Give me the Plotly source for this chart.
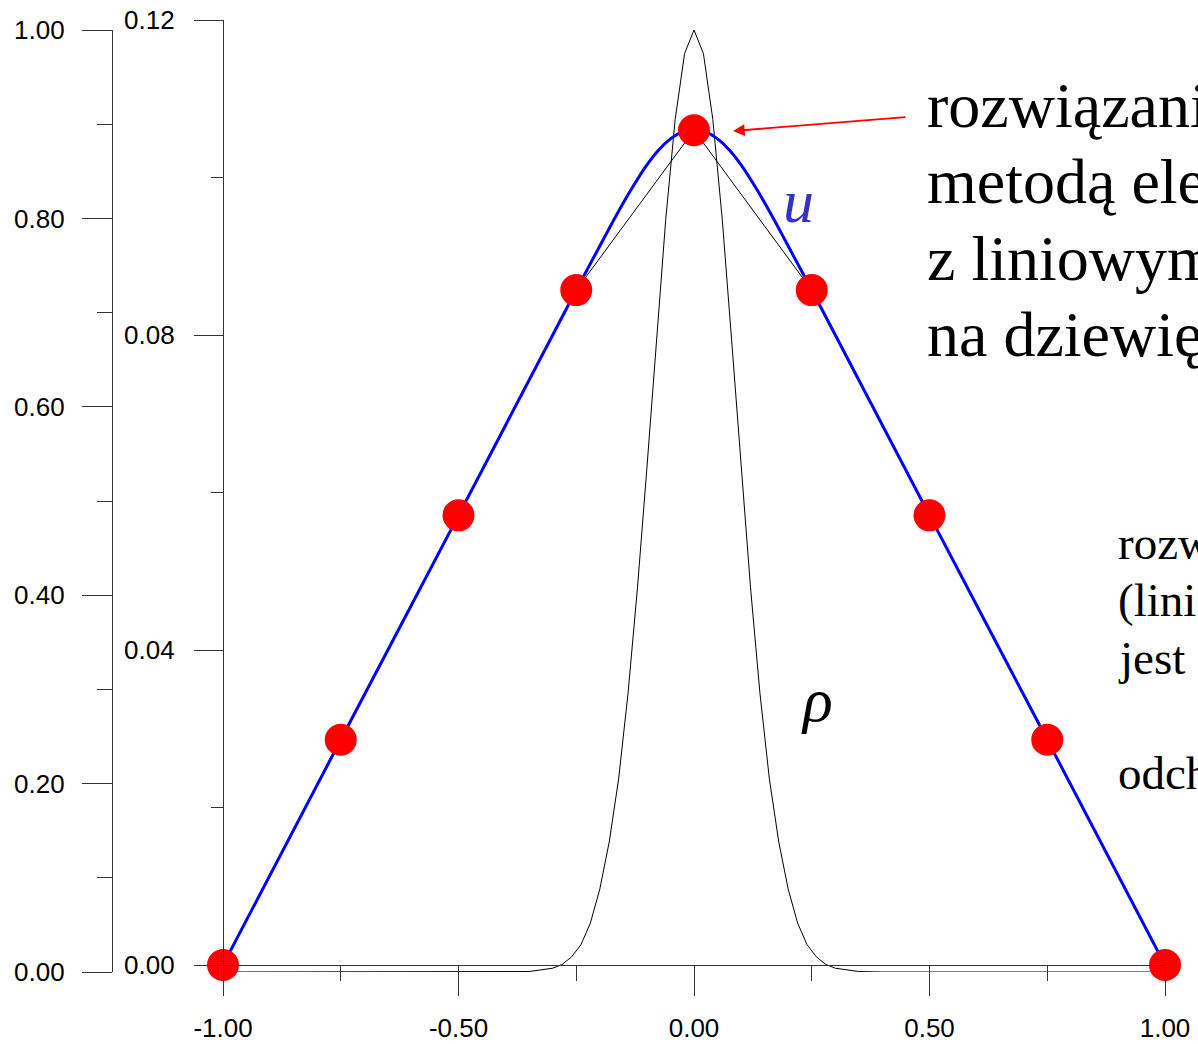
import plotly.graph_objects as go

W, H = 1198, 1044

# ---- data ----
# source density rho (outer axis, 0..1)
rho_x = [-1.0, -0.5, -0.4, -0.35, -0.3, -0.28, -0.26, -0.24, -0.22, -0.2, -0.18, -0.16,
         -0.14, -0.12, -0.1, -0.08, -0.06, -0.04, -0.02, 0.0,
         0.02, 0.04, 0.06, 0.08, 0.1, 0.12, 0.14, 0.16, 0.18, 0.2, 0.22, 0.24,
         0.26, 0.28, 0.3, 0.35, 0.4, 0.5, 1.0]
rho_v = [0.0, 0.0, 0.0, 0.0005, 0.004, 0.008, 0.016, 0.029, 0.052, 0.088, 0.138, 0.205,
         0.296, 0.408, 0.535, 0.670, 0.799, 0.905, 0.975, 1.0,
         0.975, 0.905, 0.799, 0.670, 0.535, 0.408, 0.296, 0.205, 0.138, 0.088, 0.052, 0.029,
         0.016, 0.008, 0.004, 0.0005, 0.0, 0.0, 0.0]

# exact solution u (inner axis, 0..0.12)
u_x = [-1.0, -0.75, -0.5, -0.3, -0.25, -0.2, -0.175, -0.15, -0.125, -0.1, -0.075, -0.05,
       -0.025, 0.0, 0.025, 0.05, 0.075, 0.1, 0.125, 0.15, 0.175, 0.2, 0.25, 0.3, 0.5, 0.75, 1.0]
u_v = [0.0, 0.0286, 0.0571, 0.0800, 0.0857, 0.0913, 0.0941, 0.0968, 0.0993, 0.1016, 0.1035,
       0.1049, 0.1058, 0.1061, 0.1058, 0.1049, 0.1035, 0.1016, 0.0993, 0.0968, 0.0941,
       0.0913, 0.0857, 0.0800, 0.0571, 0.0286, 0.0]

# finite element nodal solution (inner axis)
fem_x = [-1.0, -0.75, -0.5, -0.25, 0.0, 0.25, 0.5, 0.75, 1.0]
fem_u = [0.0, 0.0286, 0.0571, 0.0857, 0.1060, 0.0857, 0.0571, 0.0286, 0.0]

x_ticks = [-1.0, -0.5, 0.0, 0.5, 1.0]
x_ticktext = ["-1.00", "-0.50", "0.00", "0.50", "1.00"]
y1_ticks = [0.0, 0.2, 0.4, 0.6, 0.8, 1.0]
y2_ticks = [0.0, 0.04, 0.08, 0.12]

big_lines = ["rozwiązani", "metodą ele", "z liniowym", "na dziewię"]
small_lines = ["rozw", "(lini", "jest", "", "odch"]


def px(x):
    return x / W


def py(y):
    return 1 - y / H


AX = "#333333"
TICKFONT = dict(family="Liberation Sans, Arial, sans-serif", size=26, color="black")

fig = go.Figure()
fig.add_trace(go.Scatter(x=rho_x, y=rho_v, xaxis="x", yaxis="y", mode="lines",
                         line=dict(color="black", width=1), hoverinfo="skip"))
fig.add_trace(go.Scatter(x=fem_x, y=fem_u, xaxis="x", yaxis="y2", mode="lines",
                         line=dict(color="black", width=1), hoverinfo="skip"))
fig.add_trace(go.Scatter(x=u_x, y=u_v, xaxis="x", yaxis="y2", mode="lines",
                         line=dict(color="#0000ff", width=3, shape="spline", smoothing=0.6)))
fig.add_trace(go.Scatter(x=fem_x, y=fem_u, xaxis="x", yaxis="y2", mode="markers",
                         marker=dict(color="#ff0000", size=32, line=dict(width=0)),
                         cliponaxis=False))

fig.update_layout(
    width=W, height=H, autosize=False,
    margin=dict(l=0, r=0, t=0, b=0, pad=0, autoexpand=False),
    paper_bgcolor="white", plot_bgcolor="rgba(0,0,0,0)",
    showlegend=False,
    xaxis=dict(domain=[px(223), px(1165)], range=[-1, 1], anchor="y2", automargin=False,
               showline=True, linecolor=AX, linewidth=1.3, showgrid=False, zeroline=False,
               ticks="outside", ticklen=30, tickwidth=1.3, tickcolor=AX,
               tickvals=x_ticks, ticktext=x_ticktext, tickfont=TICKFONT, ticklabelstandoff=10,
               minor=dict(ticks="outside", ticklen=15, tickwidth=1.3, tickcolor=AX,
                          dtick=0.25, tick0=-1, showgrid=False)),
    yaxis=dict(domain=[py(972), py(30)], range=[0, 1], anchor="free", position=px(112),
               automargin=False,
               side="left", showline=True, linecolor=AX, linewidth=1.3, showgrid=False,
               zeroline=False, ticks="outside", ticklen=30, tickwidth=1.3, tickcolor=AX,
               tickvals=y1_ticks, tickformat=".2f", tickfont=TICKFONT, ticklabelstandoff=12,
               minor=dict(ticks="outside", ticklen=15, tickwidth=1.3, tickcolor=AX,
                          dtick=0.1, tick0=0, showgrid=False)),
    yaxis2=dict(domain=[py(965), py(20)], range=[0, 0.12], anchor="free", position=px(223),
                automargin=False,
                side="left", showline=True, linecolor=AX, linewidth=1.3, showgrid=False,
                zeroline=False, ticks="outside", ticklen=29, tickwidth=1.3, tickcolor=AX,
                tickvals=y2_ticks, tickformat=".2f", tickfont=TICKFONT, ticklabelstandoff=14,
                minor=dict(ticks="outside", ticklen=12, tickwidth=1.3, tickcolor=AX,
                           dtick=0.02, tick0=0, showgrid=False)),
)

SERIF = "Liberation Serif, Times New Roman, serif"
ann = []
big_centers = [106, 181, 258, 334]
for t, yc in zip(big_lines, big_centers):
    ann.append(dict(text=t, xref="paper", yref="paper", x=px(925), y=py(yc),
                    xanchor="left", yanchor="middle", showarrow=False,
                    font=dict(family=SERIF, size=64, color="black")))
small_centers = [543, 600, 658, 715, 773]
for t, yc in zip(small_lines, small_centers):
    if t:
        ann.append(dict(text=t, xref="paper", yref="paper", x=px(1116), y=py(yc),
                        xanchor="left", yanchor="middle", showarrow=False,
                        font=dict(family=SERIF, size=47, color="black")))
ann.append(dict(text="<i>u</i>", xref="paper", yref="paper", x=px(798), y=py(201),
                xanchor="center", yanchor="middle", showarrow=False,
                font=dict(family=SERIF, size=62, color="#3333cc")))
ann.append(dict(text="<i>ρ</i>", xref="paper", yref="paper", x=px(817), y=py(700),
                xanchor="center", yanchor="middle", showarrow=False,
                font=dict(family=SERIF, size=62, color="black")))
# red arrow pointing at the FEM node at x=0
ann.append(dict(text="", xref="paper", yref="paper", x=px(733), y=py(131),
                axref="pixel", ayref="pixel", ax=907 - 733, ay=117 - 131,
                showarrow=True, arrowhead=2, arrowsize=1.3, arrowwidth=1.8,
                arrowcolor="#ff0000", standoff=0, startstandoff=0))
fig.update_layout(annotations=ann)

fig.write_html("out.html")
